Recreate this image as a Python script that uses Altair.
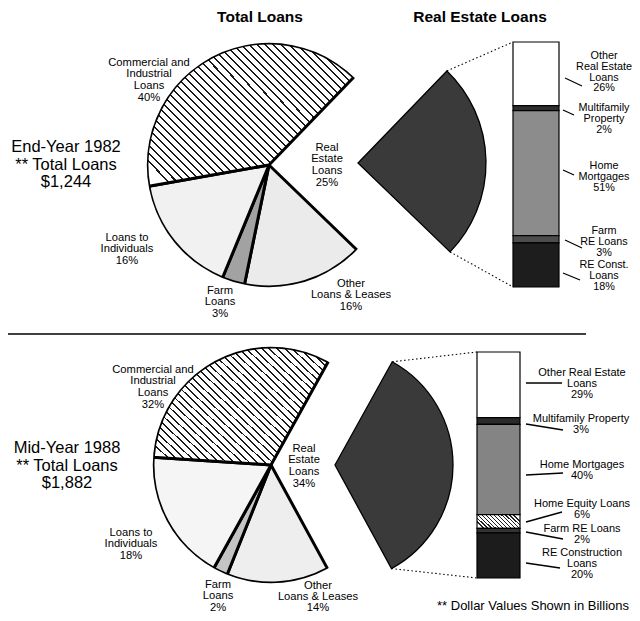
import math
import json
import altair as alt
import pandas as pd

# ---------------- data ----------------
RE_NAME = "Real Estate Loans"
PIE_CATS = ["Real Estate Loans", "Other Loans & Leases", "Farm Loans",
            "Loans to Individuals", "Commercial and Industrial Loans"]
PIE_1982 = [25, 16, 3, 16, 40]
PIE_1988 = [34, 14, 2, 18, 32]

RE_CATS_1982 = ["Other Real Estate Loans", "Multifamily Property", "Home Mortgages",
                "Farm RE Loans", "RE Construction Loans"]
RE_1982 = [26, 2, 51, 3, 18]
RE_CATS_1988 = ["Other Real Estate Loans", "Multifamily Property", "Home Mortgages",
                "Home Equity Loans", "Farm RE Loans", "RE Construction Loans"]
RE_1988 = [29, 3, 40, 6, 2, 20]

PERIODS = ["End-Year 1982", "Mid-Year 1988"]
TOTALS = [1244, 1882]  # billions of dollars

PIE_LINES = {
    "Real Estate Loans": ["Real", "Estate", "Loans"],
    "Other Loans & Leases": ["Other", "Loans & Leases"],
    "Farm Loans": ["Farm", "Loans"],
    "Loans to Individuals": ["Loans to", "Individuals"],
    "Commercial and Industrial Loans": ["Commercial and", "Industrial", "Loans"],
}
BAR_LINES_1982 = {
    "Other Real Estate Loans": ["Other", "Real Estate", "Loans"],
    "Multifamily Property": ["Multifamily", "Property"],
    "Home Mortgages": ["Home", "Mortgages"],
    "Farm RE Loans": ["Farm", "RE Loans"],
    "RE Construction Loans": ["RE Const.", "Loans"],
}
BAR_LINES_1988 = {
    "Other Real Estate Loans": ["Other Real Estate", "Loans"],
    "Multifamily Property": ["Multifamily Property"],
    "Home Mortgages": ["Home Mortgages"],
    "Home Equity Loans": ["Home Equity Loans"],
    "Farm RE Loans": ["Farm RE Loans"],
    "RE Construction Loans": ["RE Construction", "Loans"],
}

# ---------------- layout (image pixel coordinates) ----------------
W, H, M = 624, 605, 8
FONT = "Liberation Sans, Arial, Helvetica, sans-serif"
ONE = pd.DataFrame({"k": [0]})


def px(v):
    return v - M


PIE_GEOM = [
    dict(cx=269, cy=165, r=122, start=44, wx=358, wy=163, wr=128),
    dict(cx=271, cy=465, r=118, start=29, wx=335, wy=465, wr=118),
]
BAR_GEOM = [(513, 559, 42, 287), (477, 520, 352, 578)]

PIE_LABEL_POS = [
    {"Commercial and Industrial Loans": (149, 62), "Real Estate Loans": (327, 147),
     "Loans to Individuals": (127, 237), "Farm Loans": (220, 290),
     "Other Loans & Leases": (351, 283)},
    {"Commercial and Industrial Loans": (153, 369), "Real Estate Loans": (304, 448),
     "Loans to Individuals": (131, 532), "Farm Loans": (218, 584),
     "Other Loans & Leases": (318, 585)},
]
BAR_LABEL_POS = [
    {"Other Real Estate Loans": (604, 55), "Multifamily Property": (604, 107),
     "Home Mortgages": (604, 165), "Farm RE Loans": (604, 230),
     "RE Construction Loans": (604, 264)},
    {"Other Real Estate Loans": (582, 372), "Multifamily Property": (581, 418),
     "Home Mortgages": (582, 464), "Home Equity Loans": (582, 503),
     "Farm RE Loans": (582, 528), "RE Construction Loans": (582, 552)},
]
BAR_LABEL_STYLE = [(10.8, 10.8), (11, 11)]
LEADERS = [
    {"Other Real Estate Loans": (565, 78, 582, 86), "Multifamily Property": (563, 110, 574, 115),
     "Home Mortgages": (563, 170, 574, 175), "Farm RE Loans": (565, 240, 582, 248),
     "RE Construction Loans": (563, 273, 580, 280)},
    {"Other Real Estate Loans": (526, 383, 562, 383), "Multifamily Property": (526, 424, 563, 430),
     "Home Mortgages": (526, 475, 563, 473), "Home Equity Loans": (526, 522, 562, 512),
     "Farm RE Loans": (526, 532, 563, 539), "RE Construction Loans": (526, 563, 560, 568)},
]
PERIOD_POS = [(66, 147), (67, 448)]


# ---------------- styles ----------------
def stripes(n, frac, ink, paper, x1, y1, x2, y2):
    stops = []
    for i in range(n):
        a = i / n
        b = (i + (1 - frac) / 2) / n
        c = (i + (1 + frac) / 2) / n
        d = (i + 1) / n
        stops += [{"offset": round(a, 5), "color": paper}, {"offset": round(b, 5), "color": paper},
                  {"offset": round(b, 5), "color": ink}, {"offset": round(c, 5), "color": ink},
                  {"offset": round(c, 5), "color": paper}, {"offset": round(d, 5), "color": paper}]
    return {"gradient": "linear", "x1": x1, "y1": y1, "x2": x2, "y2": y2, "stops": stops}


PIE_FILLS = [
    {"Commercial and Industrial Loans": stripes(38, 0.25, "#1a1a1a", "#ffffff", 0, 0.845, 1, 0.155),
     "Loans to Individuals": "#f1f1f1", "Farm Loans": "#a2a2a2", "Other Loans & Leases": "#ebebeb"},
    {"Commercial and Industrial Loans": stripes(34, 0.25, "#1a1a1a", "#ffffff", 0, 0.85, 1, 0.15),
     "Loans to Individuals": "#f5f5f5", "Farm Loans": "#c4c4c4", "Other Loans & Leases": "#eeeeee"},
]
BAR_FILLS = [
    {"Other Real Estate Loans": "#ffffff", "Multifamily Property": "#2e2e2e",
     "Home Mortgages": "#8c8c8c", "Farm RE Loans": "#4d4d4d", "RE Construction Loans": "#1d1d1d"},
    {"Other Real Estate Loans": "#ffffff", "Multifamily Property": "#2a2a2a",
     "Home Mortgages": "#848484",
     "Home Equity Loans": stripes(12, 0.4, "#222222", "#ffffff", 0, 0.66, 1, 0.34),
     "Farm RE Loans": "#333333", "RE Construction Loans": "#1c1c1c"},
]


def fill_by(mapping, default="white"):
    return alt.FillValue(
        value=default,
        condition=[{"test": f"datum.cat === {json.dumps(k)}", "value": v} for k, v in mapping.items()],
    )


def cum(chart):
    return chart.transform_window(
        t1="sum(value)", sort=[alt.SortField("order")], frame=[None, 0]
    ).transform_calculate(t0="datum.t1 - datum.value")


def text(lines, x, y, size, weight="normal", lh=None, align="center"):
    kw = dict(text=lines if len(lines) > 1 else lines[0], font=FONT, fontSize=size,
              fontWeight=weight, align=align, baseline="top", color="black")
    if lh:
        kw["lineHeight"] = lh
    return alt.Chart(ONE).mark_text(**kw).encode(
        x=alt.value(px(x)), y=alt.value(px(y - 0.47 * size)))


def rule(x1, y1, x2, y2, w=1.2, dash=None):
    kw = dict(color="black", strokeWidth=w)
    if dash:
        kw["strokeDash"] = dash
    return alt.Chart(ONE).mark_rule(**kw).encode(
        x=alt.value(px(x1)), y=alt.value(px(y1)), x2=alt.value(px(x2)), y2=alt.value(px(y2)))


layers = []

# titles
layers.append(text(["Total Loans"], 260, 17, 15.5, "bold"))
layers.append(text(["Real Estate Loans"], 480, 17, 15.5, "bold"))

for k in range(2):
    vals = [PIE_1982, PIE_1988][k]
    g = PIE_GEOM[k]
    df = pd.DataFrame({"cat": PIE_CATS, "value": vals, "order": list(range(len(vals)))})
    start = math.radians(g["start"])
    sc = alt.Scale(domain=[0, 100], range=[start, start + 2 * math.pi])
    base = cum(alt.Chart(df))
    enc = dict(theta=alt.Theta("t0:Q", scale=sc), theta2="t1:Q")
    # pie with thick edges
    layers.append(
        base.transform_filter(f"datum.cat !== {json.dumps(RE_NAME)}")
        .mark_arc(radius=g["r"], stroke="black", strokeWidth=3, strokeJoin="round")
        .encode(x=alt.value(px(g["cx"])), y=alt.value(px(g["cy"])), fill=fill_by(PIE_FILLS[k]), **enc)
    )
    # trim the outer rim to a thin line
    layers.append(
        alt.Chart(ONE).mark_arc(theta=0, theta2=2 * math.pi, radius=g["r"] + 3, radius2=g["r"] + 0.2,
                                fill="white")
        .encode(x=alt.value(px(g["cx"])), y=alt.value(px(g["cy"])))
    )
    # exploded real estate wedge
    layers.append(
        base.transform_filter(f"datum.cat === {json.dumps(RE_NAME)}")
        .mark_arc(radius=g["wr"], stroke="black", strokeWidth=1.3, fill="#3a3a3a")
        .encode(x=alt.value(px(g["wx"])), y=alt.value(px(g["wy"])), **enc)
    )
    # pie labels
    for cat, v in zip(PIE_CATS, vals):
        x, y = PIE_LABEL_POS[k][cat]
        lh = 11.7 if (k == 0 or cat != "Other Loans & Leases") else 11.2
        layers.append(text(PIE_LINES[cat] + [f"{v}%"], x, y, 11.2, lh=lh))

    # stacked real-estate bar
    cats = [RE_CATS_1982, RE_CATS_1988][k]
    bvals = [RE_1982, RE_1988][k]
    x0, x1, top, bot = BAR_GEOM[k]
    bdf = pd.DataFrame({"cat": cats, "value": bvals, "order": list(range(len(bvals)))})
    layers.append(
        cum(alt.Chart(bdf)).mark_bar(stroke="black", strokeWidth=1.2).encode(
            y=alt.Y("t0:Q", scale=alt.Scale(domain=[0, 100], range=[px(top), px(bot)]), axis=None),
            y2="t1:Q", x=alt.value(px(x0)), x2=alt.value(px(x1)), fill=fill_by(BAR_FILLS[k]))
    )
    bar_lines = [BAR_LINES_1982, BAR_LINES_1988][k]
    fs, lh = BAR_LABEL_STYLE[k]
    for cat, v in zip(cats, bvals):
        x, y = BAR_LABEL_POS[k][cat]
        layers.append(text(bar_lines[cat] + [f"{v}%"], x, y, fs, lh=lh))
        lx1, ly1, lx2, ly2 = LEADERS[k][cat]
        layers.append(rule(lx1, ly1, lx2, ly2, w=1.3))

    # dotted connectors from the wedge tips to the bar
    a0 = start
    a1 = start + vals[0] / 100 * 2 * math.pi
    t0 = (g["wx"] + g["wr"] * math.sin(a0), g["wy"] - g["wr"] * math.cos(a0))
    t1 = (g["wx"] + g["wr"] * math.sin(a1), g["wy"] - g["wr"] * math.cos(a1))
    layers.append(rule(t0[0], t0[1], x0, top, w=1.1, dash=[1.5, 2.5]))
    layers.append(rule(t1[0], t1[1], x0, bot, w=1.1, dash=[1.5, 2.5]))

    # period and total
    x, y = PERIOD_POS[k]
    layers.append(text([PERIODS[k], "** Total Loans", f"${TOTALS[k]:,}"], x, y, 16.5, lh=17.5))

# divider
layers.append(rule(6, 334, 586, 334, w=1.7))
# footnote
layers.append(text(["** Dollar Values Shown in Billions"], 533, 606, 13))

chart = alt.layer(*layers).resolve_scale(theta="independent", y="independent").properties(
    width=W, height=H, padding=0, autosize="none"
).configure_view(stroke=None)

chart.save("out.html", embed_options={"renderer": "svg", "actions": False})
